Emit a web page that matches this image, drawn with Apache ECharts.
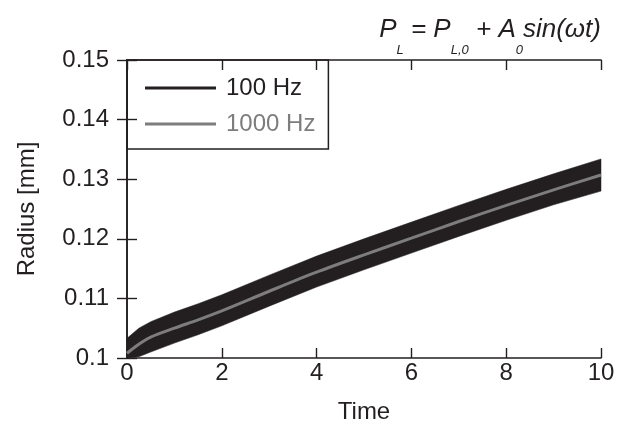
<!DOCTYPE html>
<html>
<head>
<meta charset="utf-8">
<script src="https://cdn.jsdelivr.net/npm/echarts@6/dist/echarts.min.js"></script>
<style>
  html, body { margin: 0; padding: 0; background: #fff; }
  #chart { width: 625px; height: 426px; }
</style>
</head>
<body>
<div id="chart"></div>
<script>
// time points
const times = [0, 0.25, 0.5, 1, 1.5, 2, 3, 4, 5, 6, 7, 8, 9, 10];

// 1000 Hz: the thin grey curve
const r1000 = [0.1008, 0.1023, 0.1035, 0.1050, 0.1064, 0.1079, 0.1112, 0.1144, 0.1173, 0.1201, 0.1229, 0.1256, 0.1282, 0.1307];

// 100 Hz: fast oscillation, drawn as the black envelope (top / bottom)
const r100Upper = [0.1033, 0.1050, 0.1061, 0.1077, 0.1091, 0.1106, 0.1139, 0.1171, 0.1200, 0.1228, 0.1256, 0.1283, 0.1309, 0.1334];
const r100Lower = [0.1000, 0.1002, 0.1010, 0.1025, 0.1039, 0.1054, 0.1087, 0.1119, 0.1148, 0.1176, 0.1204, 0.1231, 0.1257, 0.1280];

const xTicks = { min: 0, max: 10, interval: 2 };
const yTicks = { min: 0.1, max: 0.15, interval: 0.01 };

const ink = "#231f20";
const grey = "#7d7d7d";
const font = "'Liberation Sans', Arial, Helvetica, sans-serif";

const chart = echarts.init(document.getElementById("chart"));

function axisCommon(show) {
  return {
    type: "value",
    axisLine: { show: true, lineStyle: { color: ink, width: 1.6 } },
    axisTick: { show: true, inside: true, length: 10, lineStyle: { color: ink, width: 1.4 } },
    splitLine: { show: false },
    axisLabel: { show: show, color: ink, fontSize: 24, fontFamily: font }
  };
}

// envelope polygon: top edge left->right, bottom edge right->left
function renderBand(params, api) {
  const top = times.map((t, i) => api.coord([t, r100Upper[i]]));
  const bottom = times.map((t, i) => api.coord([t, r100Lower[i]])).reverse();
  return {
    type: "polygon",
    shape: { points: top.concat(bottom) },
    style: { fill: ink, stroke: ink, lineWidth: 0.5 }
  };
}

const option = {
  animation: false,
  backgroundColor: "#fff",
  title: {
    right: 24,
    top: 17,
    padding: 0,
    text: "{m|P}{s|L}{m| = P}{s|L,0}{m| + A}{s|0}{m|sin(ωt)}",
    textStyle: {
      rich: {
        m: { fontSize: 26, fontStyle: "italic", fontWeight: "normal", fontFamily: font, color: ink, lineHeight: 28, verticalAlign: "top" },
        s: { fontSize: 13, fontStyle: "italic", fontWeight: "normal", fontFamily: font, color: ink, lineHeight: 14, padding: [27, 0, 0, 0], verticalAlign: "top" }
      }
    }
  },
  legend: {
    orient: "vertical",
    left: 127,
    top: 60,
    padding: [16, 13, 13, 18],
    itemGap: 12,
    itemWidth: 71,
    itemHeight: 3,
    borderColor: ink,
    borderWidth: 1.5,
    textStyle: { fontSize: 24, fontFamily: font, lineHeight: 24, padding: [0, 0, 0, 5] },
    data: [
      { name: "100 Hz", icon: "rect", itemStyle: { color: ink }, textStyle: { color: ink } },
      { name: "1000 Hz", icon: "rect", itemStyle: { color: grey }, textStyle: { color: grey } }
    ]
  },
  grid: { left: 127, right: 24, top: 60, bottom: 68, outerBoundsMode: "none" },
  xAxis: [
    Object.assign(axisCommon(true), {
      position: "bottom",
      min: xTicks.min, max: xTicks.max, interval: xTicks.interval,
      name: "Time",
      nameLocation: "middle",
      nameGap: 42,
      nameTextStyle: { fontSize: 24, color: ink, fontFamily: font },
      axisLabel: { color: ink, fontSize: 24, fontFamily: font, margin: 3 }
    }),
    Object.assign(axisCommon(false), {
      position: "top",
      min: xTicks.min, max: xTicks.max, interval: xTicks.interval
    })
  ],
  yAxis: [
    Object.assign(axisCommon(true), {
      position: "left",
      min: yTicks.min, max: yTicks.max, interval: yTicks.interval,
      name: "Radius [mm]",
      nameLocation: "middle",
      nameGap: 88,
      nameTextStyle: { fontSize: 24, color: ink, fontFamily: font },
      axisLabel: {
        color: ink, fontSize: 24, fontFamily: font, margin: 18,
        formatter: v => String(+v.toFixed(2))
      }
    }),
    Object.assign(axisCommon(false), {
      position: "right",
      min: yTicks.min, max: yTicks.max, interval: yTicks.interval
    })
  ],
  series: [
    {
      name: "100 Hz",
      type: "custom",
      color: ink,
      renderItem: renderBand,
      data: [[0, 0.1]],
      encode: { x: 0, y: 1 },
      silent: true
    },
    {
      name: "1000 Hz",
      type: "line",
      smooth: 0.3,
      symbol: "none",
      color: grey,
      lineStyle: { width: 3, color: grey },
      data: times.map((t, i) => [t, r1000[i]])
    }
  ]
};

chart.setOption(option);
</script>
</body>
</html>
